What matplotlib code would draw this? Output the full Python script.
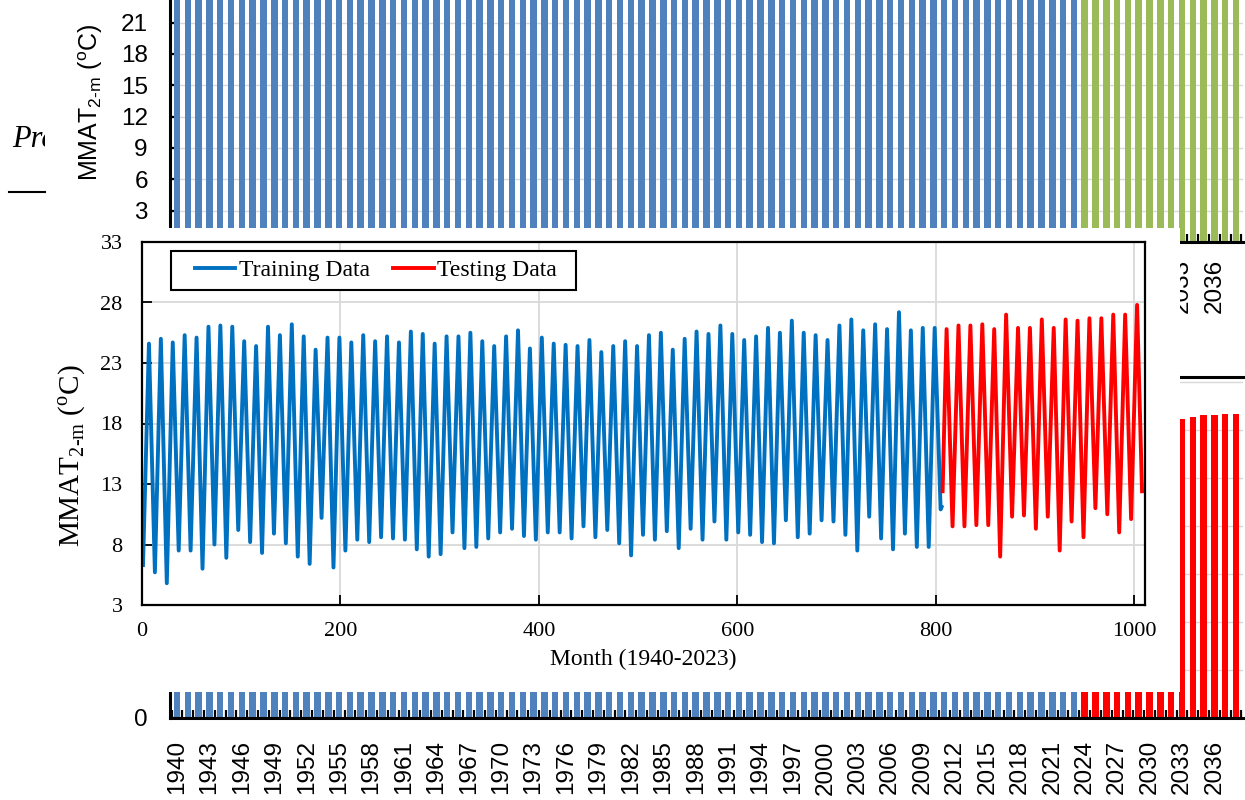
import matplotlib
matplotlib.use("Agg")
import matplotlib.pyplot as plt
from matplotlib.patches import Rectangle
from matplotlib.lines import Line2D
from matplotlib.transforms import Bbox, TransformedBbox

# ---------------------------------------------------------------- data
hist_years = list(range(1940, 2024))
future_years = list(range(2024, 2039))

# July peak of monthly mean 2-m air temperature (degC), 1940-2023
jul_peak = [24.6, 25.0, 24.7, 25.3, 25.1, 26.0, 26.1, 26.0, 24.8, 24.4,
            26.0, 25.3, 26.2, 25.2, 24.1, 25.1, 25.1, 24.7, 25.3, 24.8,
            25.2, 24.7, 25.6, 25.4, 24.6, 25.2, 25.2, 25.5, 24.8, 24.4,
            25.2, 25.7, 24.2, 25.1, 24.6, 24.5, 24.4, 24.9, 23.9, 24.4,
            24.8, 24.4, 25.3, 25.5, 24.1, 25.0, 25.6, 25.4, 26.1, 25.4,
            24.9, 25.2, 25.9, 25.5, 26.5, 25.5, 25.3, 24.9, 26.1, 26.6,
            25.7, 26.2, 25.8, 27.2, 25.7, 25.9, 25.9, 25.8, 26.1, 26.1,
            26.2, 25.8, 27.0, 25.9, 25.9, 26.6, 25.9, 26.6, 26.5, 26.7,
            26.7, 27.0, 27.0, 27.8]

# January low of monthly mean 2-m air temperature (degC), 1940-2023
jan_trough = [6.3, 5.7, 4.8, 7.5, 7.5, 6.0, 8.0, 6.9, 9.2, 8.2,
              7.3, 8.9, 8.1, 7.0, 6.4, 10.2, 6.1, 7.5, 8.4, 8.2,
              8.6, 8.5, 8.4, 7.6, 7.0, 7.2, 9.0, 7.7, 7.8, 8.5,
              9.0, 9.3, 8.7, 8.4, 9.0, 9.0, 8.5, 9.5, 8.6, 9.2,
              8.1, 7.1, 8.8, 8.4, 9.1, 7.7, 9.3, 8.4, 9.9, 8.4,
              9.0, 8.8, 8.2, 8.1, 10.0, 8.6, 8.9, 10.0, 9.9, 8.8,
              7.5, 10.3, 8.5, 7.6, 8.9, 7.8, 7.8, 10.9, 9.5, 9.5,
              9.6, 9.6, 7.0, 10.3, 10.4, 9.3, 10.3, 7.5, 9.9, 8.6,
              11.0, 10.5, 9.0, 10.1]

train_years = 67          # 1940-2006 fully in the training block
train_last = 11.1         # Feb 2007, last training month
test_first = 12.4         # Mar 2007, first testing month
test_last = 12.4          # Dec 2023

# annual mean temperature (degC)
annual_mean = [15.5, 15.4, 14.8, 16.4, 16.3, 16.0, 17.1, 16.5, 17.0, 16.3,
               16.7, 17.1, 17.2, 16.1, 15.3, 17.7, 15.6, 16.1, 16.9, 16.5,
               16.9, 16.6, 17.0, 16.5, 15.8, 16.2, 17.1, 16.6, 16.3, 16.5,
               17.1, 17.5, 16.5, 16.8, 16.8, 16.8, 16.5, 17.2, 16.3, 16.8,
               16.5, 15.8, 17.1, 17.0, 16.6, 16.4, 17.5, 16.9, 18.0, 16.9,
               17.0, 17.0, 17.1, 16.8, 18.3, 17.1, 17.1, 17.5, 18.0, 17.7,
               16.6, 18.3, 17.2, 17.4, 17.3, 16.9, 16.9, 18.4, 17.8, 17.8,
               17.9, 17.7, 17.0, 18.1, 18.2, 18.0, 18.1, 17.1, 18.2, 17.7,
               18.9, 18.8, 18.0, 19.0]
future_mean = [18.3, 18.4, 18.4, 18.5, 18.5, 18.6, 18.6, 18.6, 18.7, 18.7,
               18.8, 18.9, 18.9, 19.0, 19.0]
future_max = [27.9, 28.0, 28.0, 28.1, 28.1, 28.2, 28.2, 28.3, 28.3, 28.4,
              28.4, 28.5, 28.5, 28.6, 28.6]

# ---------------------------------------------------------------- helpers
W, H = 1245, 800
fig = plt.figure(figsize=(W / 100, H / 100), dpi=100)


def box(left, top, right, bottom):
    return [left / W, 1 - bottom / H, (right - left) / W, (bottom - top) / H]


SANS = "Liberation Sans"
SERIF = "Liberation Serif"
BLUE_BAR = "#4F81BD"
GREEN_BAR = "#9BBB59"
RED = "#FF0000"
GRID = "#D9D9D9"
YLABEL = "MMAT$_{\\mathregular{2\u2010m}}$ ($^{\\mathregular{o}}$C)"

all_years = hist_years + future_years
idx_hist = list(range(len(hist_years)))
idx_fut = [len(hist_years) + i for i in range(len(future_years))]
label_idx = list(range(0, len(all_years), 3))
bounds = [i - 0.5 for i in range(len(all_years) + 1)]


def style_bar_axes(ax, ymax, yticks, shown_ylabels, shown_years, pad_x):
    ax.set_xlim(-0.65, len(all_years) - 0.35)
    ax.set_ylim(0, ymax)
    ax.set_yticks(yticks)
    ax.set_yticklabels([str(v) if v in shown_ylabels else "" for v in yticks],
                       fontfamily=SANS, fontsize=17.5)
    ax.set_xticks(label_idx)
    ax.set_xticklabels([str(all_years[i]) if all_years[i] in shown_years
                        else "" for i in label_idx],
                       rotation=90, fontfamily=SANS, fontsize=17.5)
    ax.set_xticks(bounds, minor=True)
    ax.tick_params(axis="x", which="major", length=0, pad=pad_x)
    ax.tick_params(axis="x", which="minor", direction="in", length=6,
                   width=1.6, color="black")
    ax.tick_params(axis="y", direction="in", length=7, width=1.6, pad=16)
    ax.grid(axis="y", color=GRID, lw=1.0)
    ax.set_axisbelow(True)
    ax.spines["right"].set_visible(False)
    for s in ("left", "bottom", "top"):
        ax.spines[s].set_linewidth(2.2)
        ax.spines[s].set_color("black")


# ---------------------------------------------------------------- top bar panel
ax_top = fig.add_axes(box(170, 0, 1243, 242), zorder=3)
ax_top.bar(idx_hist, jul_peak, width=0.6, color=BLUE_BAR)
ax_top.bar(idx_fut, future_max, width=0.6, color=GREEN_BAR)
top_ticks = [3, 6, 9, 12, 15, 18, 21]
style_bar_axes(ax_top, 23.17, top_ticks, top_ticks, [2033, 2036], 12)
ax_top.spines["top"].set_visible(False)
fig.text(91 / W, 1 - 102 / H, YLABEL, rotation=90, ha="center",
         va="center", fontsize=18, fontfamily=SANS, zorder=4)

# partially hidden caption on the far left
clip = TransformedBbox(Bbox([[0, 0], [45 / W, 1]]), fig.transFigure)
cap = fig.text(12 / W, 1 - 147 / H, "Pre", fontfamily=SERIF,
               style="italic", fontsize=22, ha="left", va="baseline",
               zorder=2)
cap.set_clip_box(clip)
cap.set_clip_on(True)
fig.add_artist(Line2D([9 / W, 45 / W], [1 - 192 / H, 1 - 192 / H],
                      transform=fig.transFigure, color="black", lw=1.5,
                      zorder=2))

# ---------------------------------------------------------------- bottom bar panel
ax_bot = fig.add_axes(box(170, 377, 1243, 718), zorder=3)
ax_bot.bar(idx_hist, annual_mean, width=0.6, color=BLUE_BAR)
ax_bot.bar(idx_fut, future_mean, width=0.6, color=RED)
style_bar_axes(ax_bot, 21.3, [0, 3, 6, 9, 12, 15, 18, 21], [0],
               all_years, 16)

# ---------------------------------------------------------------- inset line panel
fig.add_artist(Rectangle((0, 1 - 692 / H), 1180 / W, (692 - 228) / H,
                         transform=fig.transFigure, facecolor="white",
                         edgecolor="none", zorder=9))

train_x, train_y = [], []
for i in range(train_years):
    train_x += [12 * i + 1, 12 * i + 7]
    train_y += [jan_trough[i], jul_peak[i]]
train_x += [12 * train_years + 1, 12 * train_years + 2]
train_y += [jan_trough[train_years], train_last]

test_x = [12 * train_years + 3, 12 * train_years + 7]
test_y = [test_first, jul_peak[train_years]]
for i in range(train_years + 1, len(hist_years)):
    test_x += [12 * i + 1, 12 * i + 7]
    test_y += [jan_trough[i], jul_peak[i]]
test_x.append(12 * len(hist_years))
test_y.append(test_last)

ax = fig.add_axes(box(142, 242, 1145, 605), zorder=10)
ax.set_facecolor("white")
l1, = ax.plot(train_x, train_y, color="#0070C0", lw=2.8,
              solid_joinstyle="round", label="Training Data")
l2, = ax.plot(test_x, test_y, color=RED, lw=2.8,
              solid_joinstyle="round", label="Testing Data")
ax.set_xlim(0, 1011)
ax.set_ylim(3, 33)
ax.set_xticks(range(0, 1001, 200))
ax.set_yticks(range(3, 34, 5))
ax.grid(True, color=GRID, lw=1.3)
ax.set_axisbelow(True)
ax.tick_params(direction="in", length=7, width=1.3, labelsize=16,
               top=False, right=False)
ax.tick_params(axis="y", pad=14)
ax.tick_params(axis="x", pad=12)
for lab in ax.get_xticklabels() + ax.get_yticklabels():
    lab.set_fontfamily(SERIF)
for s in ax.spines.values():
    s.set_linewidth(1.6)
    s.set_color("black")
ax.set_xlabel("Month (1940-2023)", fontfamily=SERIF, fontsize=17, labelpad=6)
fig.text(72 / W, 1 - 456 / H, YLABEL, rotation=90, ha="center",
         va="center", fontsize=21, fontfamily=SERIF, zorder=11)

ax.add_patch(Rectangle((0.029, 0.868), 0.404, 0.107, transform=ax.transAxes,
                       facecolor="white", edgecolor="black", lw=1.5,
                       zorder=5))
leg = ax.legend(handles=[l1, l2], loc="center left",
                bbox_to_anchor=(0.053, 0.9215), ncol=2, frameon=False,
                borderpad=0, borderaxespad=0, handlelength=1.7,
                handletextpad=0.15, columnspacing=1.0,
                prop={"family": SERIF, "size": 17})
leg.set_zorder(6)

fig.savefig("out.png", dpi=100)
